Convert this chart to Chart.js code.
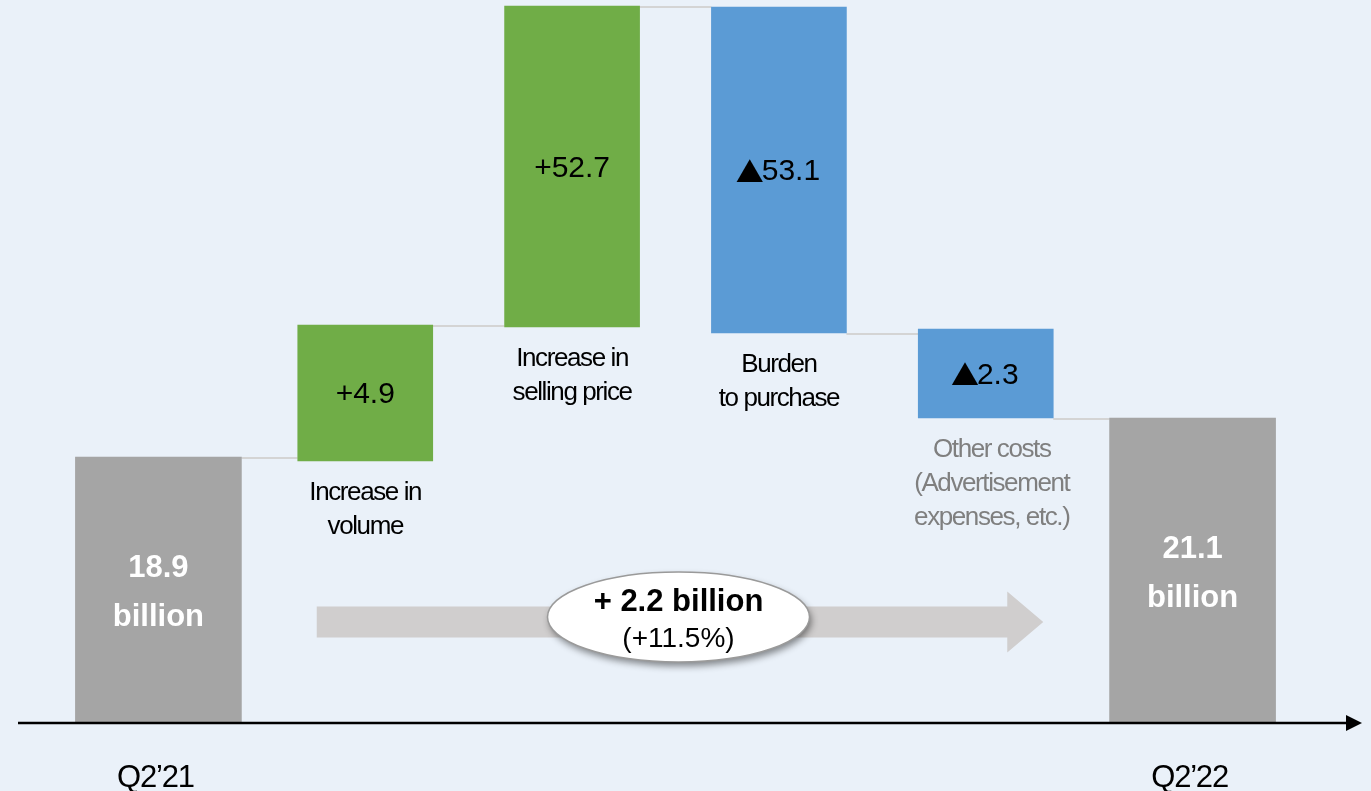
<!DOCTYPE html>
<html>
<head>
<meta charset="utf-8">
<script src="https://cdn.jsdelivr.net/npm/chart.js@4.4.0/dist/chart.umd.min.js"></script>
<style>
  html, body { margin: 0; padding: 0; background: #EAF1F9; }
  canvas { display: block; }
</style>
</head>
<body>
<canvas id="cascata" width="1371" height="791"></canvas>
<script>
// Categorias do gráfico
const categorias = ['Q2’21', 'Increase in volume', 'Increase in selling price', 'Burden to purchase', 'Other costs', 'Q2’22'];
const descricoes = [
  [],
  ['Increase in', 'volume'],
  ['Increase in', 'selling price'],
  ['Burden', 'to purchase'],
  ['Other costs', '(Advertisement', 'expenses, etc.)'],
  []
];
const rotulosValor = [['18.9', 'billion'], ['+4.9'], ['+52.7'], ['▲53.1'], ['▲2.3'], ['21.1', 'billion']];
const rotulosEixo = ['Q2’21', '', '', '', '', 'Q2’22'];

// Início e fim de cada barra (unidades visuais: o slide não está em escala)
const inicioBarra = [0, 26.1, 39.5, 71.5, 39.3, 0];
const fimBarra = [26.5, 39.7, 71.6, 38.9, 30.4, 30.4];
const ehTotal = [true, false, false, false, false, true];
const cores = ['#A5A5A5', '#70AD47', '#70AD47', '#5B9BD5', '#5B9BD5', '#A5A5A5'];

// Variação total destacada na elipse
const variacaoTotal = ['+ 2.2 billion', '(+11.5%)'];

const dadosTotais = categorias.map((c, i) => ehTotal[i] ? [inicioBarra[i], fimBarra[i]] : null);
const dadosVariacoes = categorias.map((c, i) => ehTotal[i] ? null : [inicioBarra[i], fimBarra[i]]);

const FONTE = '"Liberation Sans", Arial, "DejaVu Sans", sans-serif';
const FONTE_CJK = '"Noto Sans CJK JP", "DejaVu Sans", sans-serif';

// Pega o elemento da barra de cada categoria
function barrasDo(chart) {
  return categorias.map((c, i) => chart.getDatasetMeta(ehTotal[i] ? 0 : 1).data[i]);
}

// Escreve um valor; o ▲ vem da fonte japonesa, como no slide original
function escreveValor(ctx, texto, x, y) {
  ctx.font = '30px ' + FONTE;
  if (!texto.startsWith('▲')) {
    ctx.textAlign = 'center';
    ctx.fillText(texto, x, y);
    return;
  }
  const numero = texto.slice(1);
  ctx.font = '28px ' + FONTE_CJK;
  const larguraTri = ctx.measureText('▲').width - 4;
  ctx.font = '30px ' + FONTE;
  const larguraNum = ctx.measureText(numero).width;
  const inicio = x - (larguraTri + larguraNum) / 2;
  ctx.textAlign = 'left';
  ctx.font = '28px ' + FONTE_CJK;
  ctx.fillText('▲', inicio - 2, y);
  ctx.font = '30px ' + FONTE;
  ctx.fillText(numero, inicio + larguraTri, y);
  ctx.textAlign = 'center';
}

// Plugin com linhas de ligação, eixo, seta e textos
const pluginDecoracao = {
  id: 'decoracao',
  beforeDatasetsDraw(chart) {
    const ctx = chart.ctx;
    const y = chart.scales.y;
    const barras = barrasDo(chart);

    // linhas de ligação entre as barras
    ctx.save();
    ctx.strokeStyle = '#D4D4D4';
    ctx.lineWidth = 2;
    for (let i = 0; i < barras.length - 1; i++) {
      const yy = Math.round(y.getPixelForValue(fimBarra[i])) + 1;
      ctx.beginPath();
      ctx.moveTo(barras[i].x + barras[i].width / 2, yy);
      ctx.lineTo(barras[i + 1].x - barras[i + 1].width / 2, yy);
      ctx.stroke();
    }
    ctx.restore();
  },
  afterDatasetsDraw(chart) {
    const ctx = chart.ctx;
    const y = chart.scales.y;
    const area = chart.chartArea;
    const barras = barrasDo(chart);

    // eixo horizontal com seta
    const yEixo = y.getPixelForValue(0) + 1;
    ctx.save();
    ctx.strokeStyle = '#000';
    ctx.lineWidth = 2.5;
    ctx.beginPath();
    ctx.moveTo(area.left - 37, yEixo);
    ctx.lineTo(area.right + 52, yEixo);
    ctx.stroke();
    ctx.fillStyle = '#000';
    ctx.beginPath();
    ctx.moveTo(area.right + 50, yEixo - 8);
    ctx.lineTo(area.right + 66, yEixo);
    ctx.lineTo(area.right + 50, yEixo + 8);
    ctx.closePath();
    ctx.fill();

    // seta cinza grande
    const ySeta = y.getPixelForValue(10);
    const xIni = barras[1].x - barras[1].width / 2 + 19;
    const xPonta = barras[4].x + barras[4].width / 2 - 10;
    const xBase = xPonta - 36;
    ctx.fillStyle = '#D0CECE';
    ctx.beginPath();
    ctx.moveTo(xIni, ySeta - 15.5);
    ctx.lineTo(xBase, ySeta - 15.5);
    ctx.lineTo(xBase, ySeta - 30.5);
    ctx.lineTo(xPonta, ySeta);
    ctx.lineTo(xBase, ySeta + 30.5);
    ctx.lineTo(xBase, ySeta + 15.5);
    ctx.lineTo(xIni, ySeta + 15.5);
    ctx.closePath();
    ctx.fill();

    // elipse com a variação total
    const cx = (barras[2].x + barras[3].x) / 2 + 3;
    const cy = y.getPixelForValue(10.5);
    ctx.save();
    ctx.shadowColor = 'rgba(0,0,0,0.45)';
    ctx.shadowBlur = 7;
    ctx.shadowOffsetX = 2;
    ctx.shadowOffsetY = 4;
    ctx.fillStyle = '#FFFFFF';
    ctx.beginPath();
    ctx.ellipse(cx, cy, 131, 45, 0, 0, Math.PI * 2);
    ctx.fill();
    ctx.restore();
    ctx.strokeStyle = '#9A9A9A';
    ctx.lineWidth = 1.5;
    ctx.beginPath();
    ctx.ellipse(cx, cy, 131, 45, 0, 0, Math.PI * 2);
    ctx.stroke();

    ctx.fillStyle = '#000';
    ctx.textAlign = 'center';
    ctx.textBaseline = 'middle';
    ctx.font = 'bold 31px ' + FONTE;
    ctx.fillText(variacaoTotal[0], cx, cy - 15);
    ctx.font = '28px ' + FONTE;
    ctx.fillText(variacaoTotal[1], cx, cy + 22);

    // valores dentro das barras
    barras.forEach((b, i) => {
      const meio = (b.y + b.base) / 2;
      ctx.textAlign = 'center';
      ctx.textBaseline = 'middle';
      if (ehTotal[i]) {
        ctx.fillStyle = '#FFFFFF';
        ctx.font = 'bold 31px ' + FONTE;
        ctx.fillText(rotulosValor[i][0], b.x, meio - 21);
        ctx.fillText(rotulosValor[i][1], b.x, meio + 28);
      } else {
        ctx.fillStyle = '#000';
        escreveValor(ctx, rotulosValor[i][0], b.x, meio + 2);
      }
    });

    // descrições abaixo das barras de variação
    ctx.textAlign = 'center';
    ctx.textBaseline = 'alphabetic';
    ctx.font = '26px ' + FONTE;
    ctx.letterSpacing = '-1.4px';
    barras.forEach((b, i) => {
      const fundo = Math.max(b.y, b.base);
      ctx.fillStyle = i === 4 ? '#7F7F7F' : '#000';
      descricoes[i].forEach((linha, k) => {
        ctx.fillText(linha, b.x + (i === 4 ? 6 : 0), fundo + 39 + k * 34);
      });
    });

    // rótulos do eixo
    ctx.fillStyle = '#000';
    ctx.font = '31px ' + FONTE;
    ctx.letterSpacing = '-1.2px';
    barras.forEach((b, i) => {
      if (rotulosEixo[i]) ctx.fillText(rotulosEixo[i], b.x - 3, yEixo + 64);
    });
    ctx.restore();
  }
};

const ctx = document.getElementById('cascata').getContext('2d');
const graficoCascata = new Chart(ctx, {
  type: 'bar',
  data: {
    labels: categorias,
    datasets: [
      {
        label: 'Totais',
        data: dadosTotais,
        backgroundColor: cores,
        barThickness: 166,
        grouped: false
      },
      {
        label: 'Variações',
        data: dadosVariacoes,
        backgroundColor: cores,
        barThickness: 135,
        grouped: false
      }
    ]
  },
  options: {
    responsive: false,
    animation: false,
    layout: {
      padding: { left: 55, right: 75, top: 0, bottom: 69 }
    },
    plugins: {
      legend: { display: false },
      tooltip: { enabled: false }
    },
    scales: {
      x: { display: false, offset: true },
      y: { display: false, min: 0, max: 72.2 }
    }
  },
  plugins: [pluginDecoracao]
});
</script>
</body>
</html>
